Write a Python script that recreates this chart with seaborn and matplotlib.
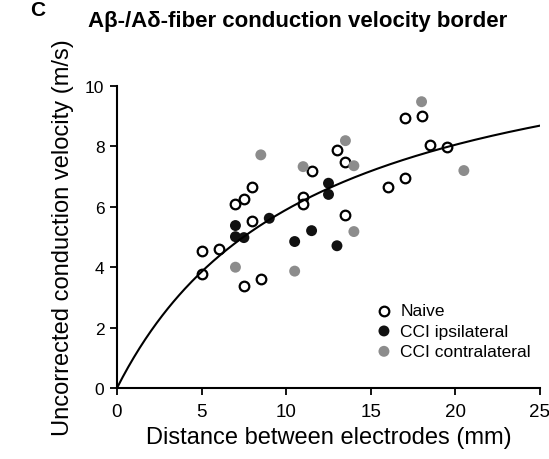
import numpy as np
import pandas as pd
import matplotlib
matplotlib.use("Agg")
import matplotlib.pyplot as plt
import seaborn as sns

# ---- data ----
naive_x = [5, 5, 6, 7, 7.5, 8, 8, 7.5, 8.5, 11, 11, 11.5, 13, 13.5, 13.5, 16, 17, 17, 18, 18.5, 19.5]
naive_y = [4.55, 3.78, 4.6, 6.08, 6.26, 6.67, 5.53, 3.39, 3.6, 6.31, 6.09, 7.2, 7.88, 7.5, 5.73, 6.67, 6.94, 8.95, 9.02, 8.05, 7.97]

ipsi_x = [7, 7, 7.5, 9, 10.5, 11.5, 12.5, 12.5, 13]
ipsi_y = [5.38, 5.01, 4.98, 5.62, 4.85, 5.21, 6.78, 6.41, 4.71]

contra_x = [7, 8.5, 10.5, 11, 13.5, 14, 14, 18, 20.5]
contra_y = [4.0, 7.72, 3.87, 7.33, 8.19, 7.36, 5.18, 9.48, 7.2]

# fitted saturation curve v = vmax * d / (k + d)
fit_vmax = 12.67
fit_k = 11.46

x_ticks = [0, 5, 10, 15, 20, 25]
y_ticks = [0, 2, 4, 6, 8, 10]

title = "A\u03b2-/A\u03b4-fiber conduction velocity border"
xlabel = "Distance between electrodes (mm)"
ylabel = "Uncorrected conduction velocity (m/s)"

# ---- style ----
sns.set_style("ticks")
plt.rcParams["font.family"] = ["Liberation Sans", "DejaVu Sans"]
plt.rcParams["text.color"] = "black"
plt.rcParams["axes.labelcolor"] = "black"
plt.rcParams["xtick.color"] = "black"
plt.rcParams["ytick.color"] = "black"

W, H = 549, 460
fig = plt.figure(figsize=(W / 100, H / 100), dpi=100)
ax = fig.add_axes([117 / W, 1 - 389 / H, (540 - 117) / W, (389 - 87) / H])

curve_x = np.linspace(0, 25, 300)
curve_y = fit_vmax * curve_x / (fit_k + curve_x)

sns.scatterplot(x=naive_x, y=naive_y, ax=ax, s=48, facecolor="white",
                edgecolor="black", linewidth=1.6, label="Naive", zorder=3)
sns.scatterplot(x=ipsi_x, y=ipsi_y, ax=ax, s=62, color="#111111",
                edgecolor="none", linewidth=0, label="CCI ipsilateral", zorder=3)
sns.scatterplot(x=contra_x, y=contra_y, ax=ax, s=62, color="#8c8c8c",
                edgecolor="none", linewidth=0, label="CCI contralateral", zorder=3)
sns.lineplot(x=curve_x, y=curve_y, ax=ax, color="black", linewidth=1.5,
             zorder=4, legend=False)

ax.set_xlim(0, 25)
ax.set_ylim(0, 10)
ax.set_xticks(x_ticks)
ax.set_yticks(y_ticks)
ax.tick_params(axis="x", labelsize=13.5, length=5, width=1.3, pad=6,
               colors="black", labelcolor="black")
ax.tick_params(axis="y", labelsize=12.5, length=5, width=1.3, pad=4,
               colors="black", labelcolor="black")
for side in ["top", "right"]:
    ax.spines[side].set_visible(False)
for side in ["left", "bottom"]:
    ax.spines[side].set_linewidth(1.5)
    ax.spines[side].set_color("black")
ax.set_xlabel(xlabel, fontsize=17, labelpad=4, color="black")
ax.set_ylabel(ylabel, fontsize=17, labelpad=8, color="black")

leg = ax.legend(loc="upper left", bbox_to_anchor=(377 / W, 1 - 304 / H),
                bbox_transform=fig.transFigure, frameon=False, fontsize=12.5,
                handlelength=0.8, handletextpad=0.55, labelspacing=0.3,
                borderpad=0, borderaxespad=0)
for t in leg.get_texts():
    t.set_color("black")

fig.text(298 / W, 1 - 22 / H, title, fontsize=16, fontweight="bold",
         ha="center", va="center", color="black")
fig.text(38 / W, 1 - 11 / H, "C", fontsize=15, fontweight="bold",
         ha="center", va="center", color="black")

fig.savefig("out.png", dpi=100)
